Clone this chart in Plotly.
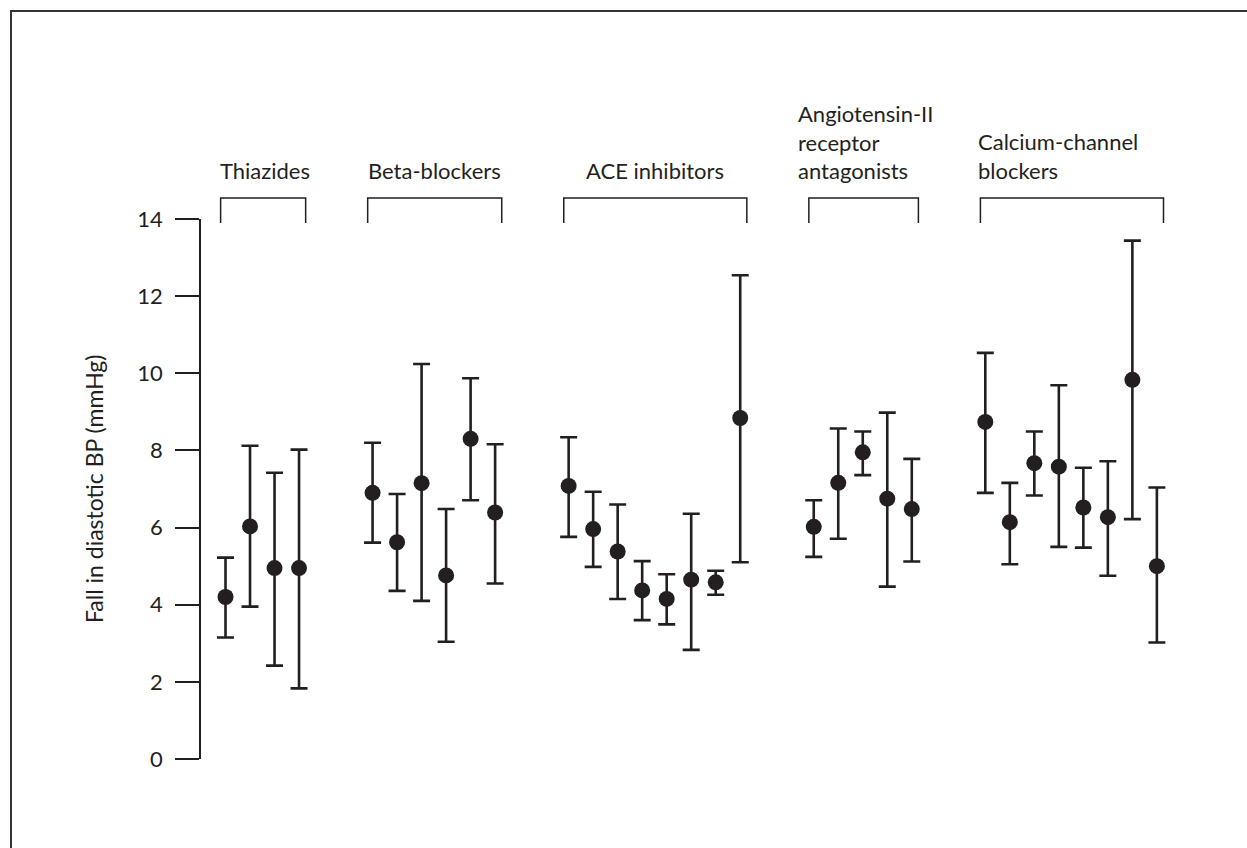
import plotly.graph_objects as go

# ---------------- data ----------------
groups = ["Thiazides", "Beta-blockers", "ACE inhibitors",
          "Angiotensin-II receptor antagonists", "Calcium-channel blockers"]
group_labels = ["Thiazides", "Beta-blockers", "ACE inhibitors",
                "Angiotensin-II<br>receptor<br>antagonists",
                "Calcium-channel<br>blockers"]

thiazides_mean = [4.20, 6.03, 4.95, 4.95]
thiazides_lo = [3.15, 3.95, 2.42, 1.83]
thiazides_hi = [5.22, 8.12, 7.42, 8.02]

beta_mean = [6.90, 5.62, 7.15, 4.76, 8.30, 6.39]
beta_lo = [5.61, 4.36, 4.10, 3.04, 6.71, 4.55]
beta_hi = [8.20, 6.87, 10.24, 6.48, 9.87, 8.16]

ace_mean = [7.08, 5.96, 5.38, 4.37, 4.15, 4.65, 4.58, 8.84]
ace_lo = [5.76, 4.98, 4.15, 3.60, 3.49, 2.83, 4.26, 5.10]
ace_hi = [8.34, 6.93, 6.60, 5.13, 4.79, 6.36, 4.88, 12.54]

arb_mean = [6.02, 7.16, 7.95, 6.75, 6.48]
arb_lo = [5.24, 5.71, 7.36, 4.47, 5.12]
arb_hi = [6.71, 8.57, 8.49, 8.98, 7.78]

ccb_mean = [8.74, 6.14, 7.67, 7.58, 6.52, 6.27, 9.83, 5.00]
ccb_lo = [6.90, 5.05, 6.83, 5.50, 5.48, 4.75, 6.22, 3.02]
ccb_hi = [10.53, 7.16, 8.49, 9.69, 7.55, 7.72, 13.44, 7.04]

y_ticks = [0, 2, 4, 6, 8, 10, 12, 14]
y_title = "Fall in diastotic BP (mmHg)"

# ---------------- style ----------------
INK = "#231f20"
FONT = "Lato"
FS = 22
W, H = 1247, 848
ML, MR, MT, MB = 201, 46, 219, 89
GAP = 2
X0 = -1.0
X1 = 39.8

series = [
    (thiazides_mean, thiazides_lo, thiazides_hi),
    (beta_mean, beta_lo, beta_hi),
    (ace_mean, ace_lo, ace_hi),
    (arb_mean, arb_lo, arb_hi),
    (ccb_mean, ccb_lo, ccb_hi),
]

fig = go.Figure()
shapes = []
annotations = []
plot_h = H - MT - MB


def py(px):  # pixel row -> paper y
    return (H - MB - px) / plot_h


label_anchor = ["left", "left", "center", "left", "left"]
label_xshift = [-3, -2, 0, -13, -4]

start = 0
for gi, (m, lo, hi) in enumerate(series):
    n = len(m)
    xs = [start + k for k in range(n)]
    fig.add_trace(go.Scatter(
        x=xs, y=m, mode="markers",
        marker=dict(size=16, color=INK),
        error_y=dict(type="data", symmetric=False,
                     array=[h - v for h, v in zip(hi, m)],
                     arrayminus=[v - l for v, l in zip(m, lo)],
                     color=INK, thickness=2.6, width=8.5),
        cliponaxis=False, showlegend=False, hoverinfo="skip",
        name=groups[gi],
    ))
    bl, br = xs[0] - 0.2, xs[-1] + 0.27
    ytop, ybot = py(198), py(223)
    shapes.append(dict(type="path", xref="x", yref="paper",
                       path=f"M {bl},{ybot} L {bl},{ytop} L {br},{ytop} L {br},{ybot}",
                       line=dict(color=INK, width=1.5)))
    ax = bl if label_anchor[gi] == "left" else (bl + br) / 2
    annotations.append(dict(
        x=ax, y=py(186), xref="x", yref="paper",
        text=group_labels[gi], showarrow=False, align="left",
        xanchor=label_anchor[gi], yanchor="bottom",
        xshift=label_xshift[gi],
        font=dict(family=FONT, size=FS, color=INK)))
    start += n + GAP

# y-axis title
annotations.append(dict(x=(94 - ML) / (W - ML - MR), y=0.5, xref="paper", yref="paper",
                        text=y_title, textangle=-90, showarrow=False,
                        xanchor="center", yanchor="middle",
                        font=dict(family=FONT, size=23, color=INK)))

# partial frame (top and left edges)
fx = (11 - ML) / (W - ML - MR)
fy = py(11)
shapes.append(dict(type="path", xref="paper", yref="paper",
                   path=f"M {fx},{py(H + 5)} L {fx},{fy} L {(W + 5 - ML) / (W - ML - MR)},{fy}",
                   line=dict(color="#333333", width=2)))

fig.update_layout(
    width=W, height=H,
    margin=dict(l=ML, r=MR, t=MT, b=MB),
    paper_bgcolor="white", plot_bgcolor="white",
    font=dict(family=FONT, size=FS, color=INK),
    shapes=shapes, annotations=annotations,
    xaxis=dict(range=[X0, X1], visible=False, fixedrange=True),
    yaxis=dict(range=[0, 14], tickvals=y_ticks, ticktext=[str(t) for t in y_ticks],
               showline=True, linecolor=INK, linewidth=1.5,
               ticks="outside", ticklen=24, tickwidth=1.5, tickcolor=INK,
               showgrid=False, zeroline=False, ticklabelstandoff=8,
               tickfont=dict(family=FONT, size=FS, color=INK), fixedrange=True),
)

fig.write_html("out.html")
